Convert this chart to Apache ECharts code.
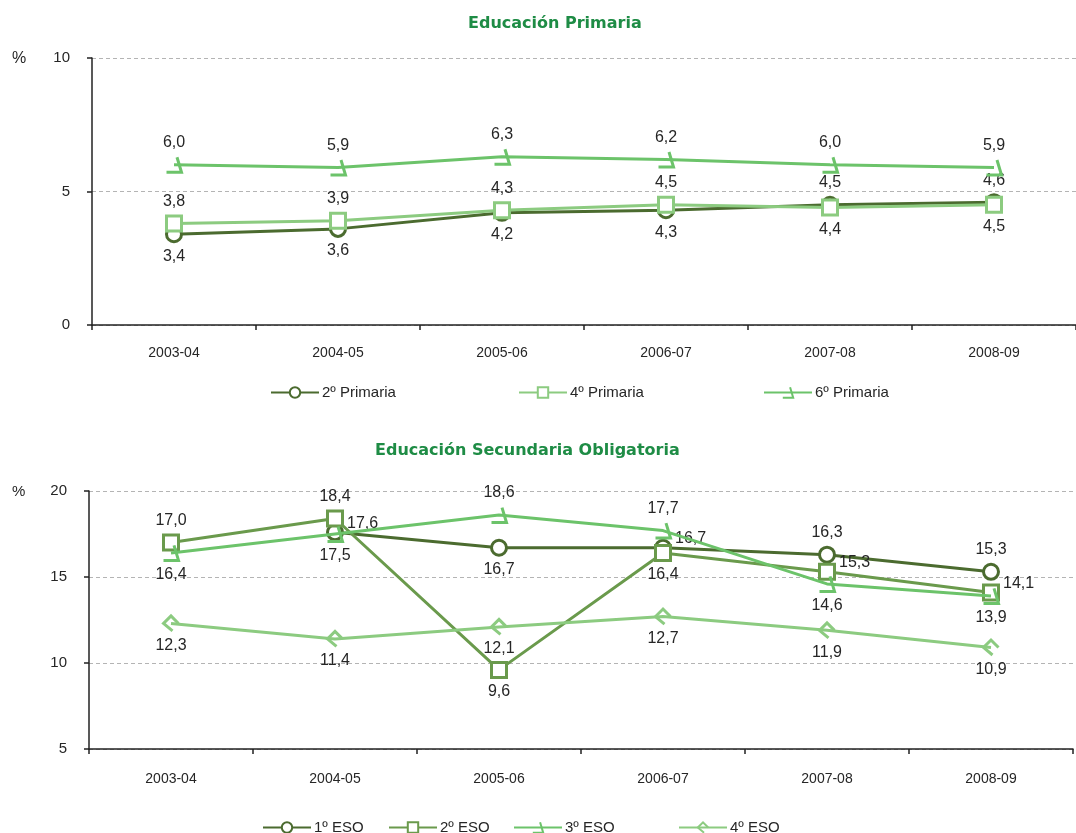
<!DOCTYPE html>
<html><head><meta charset="utf-8">
<script src="https://cdn.jsdelivr.net/npm/echarts@6/dist/echarts.min.js"></script>
<style>html,body{margin:0;padding:0;background:#fff}#c{width:1076px;height:833px}</style>
</head><body><div id="c"></div>
<script>
const categories = ['2003-04','2004-05','2005-06','2006-07','2007-08','2008-09'];
const primTicks = [0,5,10];
const esoTicks = [5,10,15,20];
const prim2 = [3.4,3.6,4.2,4.3,4.5,4.6];
const prim4 = [3.8,3.9,4.3,4.5,4.4,4.5];
const prim6 = [6.0,5.9,6.3,6.2,6.0,5.9];
const eso1 = [null,17.6,16.7,16.7,16.3,15.3];
const eso2 = [17.0,18.4,9.6,16.4,15.3,14.1];
const eso3 = [16.4,17.5,18.6,17.7,14.6,13.9];
const eso4 = [12.3,11.4,12.1,12.7,11.9,10.9];

// label placement (style only)
const pos = {
  prim2:['bottom','bottom','bottom','bottom','top','top'],
  prim4:['top','top','top','top','bottom','bottom'],
  prim6:['top','top','top','top','top','top'],
  eso1:['right','right','bottom','right','top','top'],
  eso2:['top','top','bottom','bottom','right','right'],
  eso3:['bottom','bottom','top','top','bottom','bottom'],
  eso4:['bottom','bottom','bottom','bottom','bottom','bottom']
};
const C1='#4b6b2f', C2='#6a9a4c', C3='#6cc36a', C4='#8ccb80';
const SYM3='path://M0,10 L10,10 L7,0';
const SYM4='path://M6,10 L0,5 L5,0 L10,5';
const font='"Liberation Sans", Arial, sans-serif';

function fmt(v){return v.toFixed(1).replace('.',',');}
function mk(name, vals, p, color, sym, size, xi, yi, z){
  return {
    name, type:'line', xAxisIndex:xi, yAxisIndex:yi, z:z,
    symbol:sym, symbolSize:size, showSymbol:true, connectNulls:false,
    lineStyle:{color, width:3},
    itemStyle:{color: sym.startsWith('path')?'rgba(0,0,0,0)':'#fff', borderColor:color, borderWidth:3},
    emphasis:{disabled:true},
    animation:false,
    data: vals.map((v,i)=> v==null?null:{value:v,label:{position:p[i], offset: p[i]==='right'?[-2,-9]:[0,0]}}),
    label:{show:true, formatter:o=>fmt(o.value), color:'#262626', fontSize:16, fontFamily:font, distance:5}
  };
}
const axisCommon = {
  axisLine:{show:true,lineStyle:{color:'#222',width:1.5}},
  axisTick:{show:true,lineStyle:{color:'#222',width:1.5},length:5},
  axisLabel:{color:'#262626',fontSize:14,fontFamily:font}
};
function legend(name,left,top){
  return {data:[name], left, top, itemWidth:48, itemHeight:13, itemGap:0,
    textStyle:{color:'#262626',fontSize:15,fontFamily:font,padding:[0,0,0,-2]}, selectedMode:false};
}
const chart = echarts.init(document.getElementById('c'));
chart.setOption({
  animation:false,
  backgroundColor:'#fff',
  title:[
    {text:'Educación Primaria', left:463, top:11, textStyle:{color:'#1e8c45',fontSize:16,fontWeight:'bold',fontFamily:'DejaVu Sans'}},
    {text:'Educación Secundaria Obligatoria', left:370, top:438, textStyle:{color:'#1e8c45',fontSize:16,fontWeight:'bold',fontFamily:'DejaVu Sans'}}
  ],
  graphic:[
    {type:'text', left:12, top:51, style:{text:'%', fill:'#262626', font:'16px "Liberation Sans", Arial, sans-serif'}},
    {type:'text', left:12, top:484, style:{text:'%', fill:'#262626', font:'15px "Liberation Sans", Arial, sans-serif'}}
  ],
  grid:[
    {left:92, width:984, top:58, height:267},
    {left:89, width:984, top:491, height:258}
  ],
  xAxis:[
    Object.assign({type:'category', gridIndex:0, data:categories, boundaryGap:true}, axisCommon, {axisLabel:Object.assign({},axisCommon.axisLabel,{margin:21})}),
    Object.assign({type:'category', gridIndex:1, data:categories, boundaryGap:true}, axisCommon, {axisLabel:Object.assign({},axisCommon.axisLabel,{margin:23})})
  ],
  yAxis:[
    Object.assign({type:'value', gridIndex:0, min:primTicks[0], max:primTicks[primTicks.length-1], interval:5,
      splitLine:{show:true,lineStyle:{color:'#b4b4b4',type:[4,3],width:1}}}, axisCommon,
      {axisLabel:Object.assign({},axisCommon.axisLabel,{margin:22,fontSize:15})}),
    Object.assign({type:'value', gridIndex:1, min:esoTicks[0], max:esoTicks[esoTicks.length-1], interval:5,
      splitLine:{show:true,lineStyle:{color:'#b4b4b4',type:[4,3],width:1}}}, axisCommon,
      {axisLabel:Object.assign({},axisCommon.axisLabel,{margin:22,fontSize:15})})
  ],
  legend:[
    legend('2º Primaria',265,380), legend('4º Primaria',513,380), legend('6º Primaria',758,380),
    legend('1º ESO',257,815), legend('2º ESO',383,815), legend('3º ESO',508,815), legend('4º ESO',673,815)
  ],
  series:[
    mk('2º Primaria',prim2,pos.prim2,C1,'circle',15,0,0,3),
    mk('4º Primaria',prim4,pos.prim4,C4,'rect',15,0,0,4),
    mk('6º Primaria',prim6,pos.prim6,C3,SYM3,15,0,0,5),
    mk('1º ESO',eso1,pos.eso1,C1,'circle',15,1,1,3),
    mk('2º ESO',eso2,pos.eso2,C2,'rect',15,1,1,4),
    mk('3º ESO',eso3,pos.eso3,C3,SYM3,15,1,1,5),
    mk('4º ESO',eso4,pos.eso4,C4,SYM4,15,1,1,6)
  ]
});
</script></body></html>
